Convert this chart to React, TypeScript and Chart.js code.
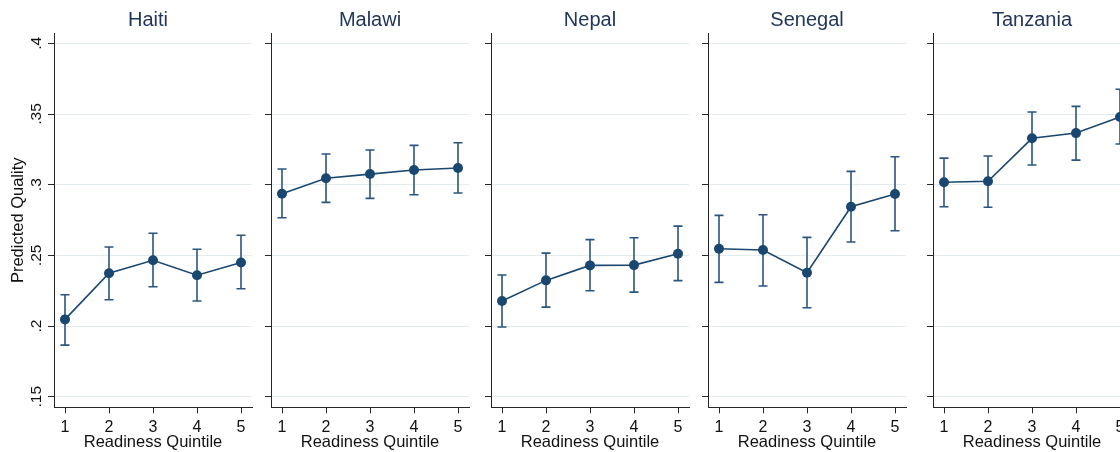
import React, { useEffect, useRef } from 'react';
import { Chart, registerables } from 'chart.js';

Chart.register(...registerables);

// ---------- data ----------
const countries = ['Haiti', 'Malawi', 'Nepal', 'Senegal', 'Tanzania'];
const quintiles = [1, 2, 3, 4, 5];
const yTickValues = [0.15, 0.2, 0.25, 0.3, 0.35, 0.4];
const yTickLabels = ['.15', '.2', '.25', '.3', '.35', '.4'];
const xAxisTitle = 'Readiness Quintile';
const yAxisTitle = 'Predicted Quality';

const haitiEst = [0.2047, 0.2373, 0.2465, 0.2359, 0.245];
const haitiLo = [0.1865, 0.2186, 0.2278, 0.2177, 0.2264];
const haitiHi = [0.2221, 0.2559, 0.2656, 0.2543, 0.2642];

const malawiEst = [0.2936, 0.3045, 0.3075, 0.3104, 0.3118];
const malawiLo = [0.2766, 0.2875, 0.2903, 0.2929, 0.2941];
const malawiHi = [0.3111, 0.3217, 0.3245, 0.3278, 0.3297];

const nepalEst = [0.2177, 0.2323, 0.2429, 0.2431, 0.2511];
const nepalLo = [0.1993, 0.2134, 0.225, 0.224, 0.2321];
const nepalHi = [0.2361, 0.2516, 0.2611, 0.2625, 0.2707];

const senegalEst = [0.2547, 0.2538, 0.2377, 0.2844, 0.2934];
const senegalLo = [0.2309, 0.2283, 0.2129, 0.2594, 0.2674];
const senegalHi = [0.2783, 0.2787, 0.2627, 0.3094, 0.3198];

const tanzaniaEst = [0.3017, 0.3024, 0.3328, 0.3365, 0.3479];
const tanzaniaLo = [0.2844, 0.284, 0.3139, 0.3174, 0.3288];
const tanzaniaHi = [0.3188, 0.3203, 0.3514, 0.3554, 0.3675];

const estimates = [haitiEst, malawiEst, nepalEst, senegalEst, tanzaniaEst];
const lowers = [haitiLo, malawiLo, nepalLo, senegalLo, tanzaniaLo];
const uppers = [haitiHi, malawiHi, nepalHi, senegalHi, tanzaniaHi];

// ---------- layout / style ----------
const PLOT_LEFT = [54, 271, 491, 708, 933];
const PLOT_W = 198;
const CANVAS_H = 460;
const Y_MIN = 0.1425;
const Y_MAX = 0.4071;
const X_MIN = 0.75;
const X_MAX = 5.25;
const FIRST_TITLE_CENTER = 148;

const FONT = '"Liberation Sans", Arial, Helvetica, sans-serif';
const NAVY = '#1a476f';
const CI_COLOR = '#2a5580';
const AXIS = '#262626';
const GRID = '#e4ecef';
const TITLE_COLOR = '#22365c';
const TEXT = '#111111';

function Panel({ index }: { index: number }) {
  const ref = useRef<HTMLCanvasElement | null>(null);
  const first = index === 0;
  const yW = first ? 54 : 8;
  const padR = 8;
  const canvasLeft = first ? 0 : PLOT_LEFT[index] - 8;
  const canvasW = PLOT_LEFT[index] + PLOT_W + padR - canvasLeft;

  useEffect(() => {
    const canvas = ref.current;
    if (!canvas) return;
    const est = estimates[index];
    const lo = lowers[index];
    const hi = uppers[index];
    const estData = quintiles.map((q, i) => ({ x: q, y: est[i] }));
    const ciData: any[] = [];
    quintiles.forEach((q, i) => {
      ciData.push({ x: q, y: lo[i] }, { x: q, y: hi[i] }, { x: q, y: null });
    });

    const titleShift = {
      id: 'titleShift',
      afterLayout(chart: any) {
        if (!first) return;
        const tb = chart.titleBlock;
        if (!tb) return;
        const half = (chart.chartArea.right - FIRST_TITLE_CENTER);
        tb.left = FIRST_TITLE_CENTER - half;
        tb.right = FIRST_TITLE_CENTER + half;
        tb.width = half * 2;
      },
    };

    const chart = new Chart(canvas, {
      type: 'scatter',
      data: {
        datasets: [
          {
            data: estData,
            showLine: true,
            borderColor: NAVY,
            borderWidth: 1.6,
            pointStyle: 'circle',
            pointRadius: 5,
            pointBackgroundColor: NAVY,
            pointBorderColor: NAVY,
            pointBorderWidth: 0,
          },
          {
            data: ciData,
            showLine: true,
            spanGaps: false,
            borderColor: CI_COLOR,
            borderWidth: 1.6,
            pointStyle: 'line',
            pointRadius: 4.5,
            pointBorderColor: CI_COLOR,
            pointBackgroundColor: CI_COLOR,
            pointBorderWidth: 1.6,
          },
        ],
      },
      plugins: [titleShift],
      options: {
        animation: false,
        responsive: false,
        events: [],
        layout: { padding: { left: 0, right: padR, top: 8.3, bottom: 7.2 } },
        plugins: {
          legend: { display: false },
          tooltip: { enabled: false },
          title: {
            display: true,
            text: countries[index],
            fullSize: false,
            color: TITLE_COLOR,
            font: { family: FONT, size: 20, weight: 'normal', lineHeight: 1.2 },
            padding: { top: 0, bottom: 1 },
          },
        },
        scales: {
          x: {
            type: 'linear',
            min: X_MIN,
            max: X_MAX,
            afterBuildTicks: (s: any) => {
              s.ticks = quintiles.map((v) => ({ value: v }));
            },
            afterFit: (s: any) => {
              s.height = 45.5;
            },
            ticks: {
              callback: (v: any) => String(v),
              font: { family: FONT, size: 16 },
              color: TEXT,
              padding: 4.5,
              maxRotation: 0,
              autoSkip: false,
            },
            grid: {
              drawOnChartArea: false,
              drawTicks: true,
              tickLength: 6,
              tickColor: AXIS,
              tickWidth: 1,
            },
            border: { display: true, color: AXIS, width: 1 },
            title: {
              display: true,
              text: xAxisTitle,
              color: TEXT,
              font: { family: FONT, size: 16.5, lineHeight: 1.2 },
              padding: 0,
            },
          },
          y: {
            type: 'linear',
            min: Y_MIN,
            max: Y_MAX,
            afterBuildTicks: (s: any) => {
              s.ticks = yTickValues.map((v) => ({ value: v }));
            },
            afterFit: (s: any) => {
              s.width = yW;
            },
            ticks: {
              display: first,
              callback: (_v: any, i: number) => yTickLabels[i],
              font: { family: FONT, size: 15.5 },
              color: TEXT,
              minRotation: 90,
              maxRotation: 90,
              crossAlign: 'center',
              padding: 1,
              autoSkip: false,
            },
            grid: {
              display: true,
              drawOnChartArea: true,
              color: GRID,
              lineWidth: 1,
              drawTicks: true,
              tickLength: 6,
              tickColor: AXIS,
              tickWidth: 1,
            },
            border: { display: true, color: AXIS, width: 1 },
            title: {
              display: first,
              text: yAxisTitle,
              color: TEXT,
              font: { family: FONT, size: 16.5, lineHeight: 1.2 },
              padding: { top: 8.2, bottom: 0 },
            },
          },
        },
      } as any,
    });
    return () => chart.destroy();
  }, [index]);

  return (
    <div
      style={{
        position: 'absolute',
        left: canvasLeft,
        top: 0,
        width: canvasW,
        height: CANVAS_H,
      }}
    >
      <canvas
        ref={ref}
        width={canvasW}
        height={CANVAS_H}
        style={{ display: 'block', width: canvasW, height: CANVAS_H }}
      />
    </div>
  );
}

export default function App() {
  return (
    <div
      style={{
        position: 'absolute',
        left: 0,
        top: 0,
        width: 1120,
        height: 452,
        overflow: 'hidden',
        background: '#ffffff',
      }}
    >
      {countries.map((c, i) => (
        <Panel key={c} index={i} />
      ))}
    </div>
  );
}
